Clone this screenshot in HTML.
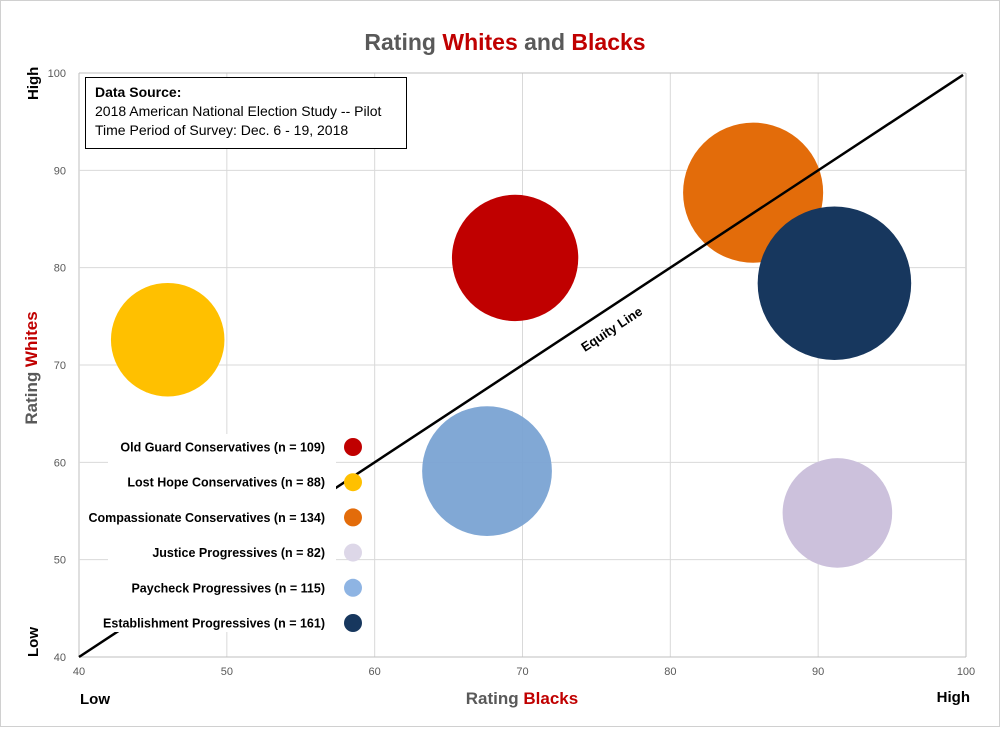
<!DOCTYPE html>
<html><head><meta charset="utf-8"><style>
body{margin:0;background:#fff;font-family:"Liberation Sans",sans-serif}
</style></head><body>
<svg width="1000" height="727" xmlns="http://www.w3.org/2000/svg" font-family="Liberation Sans, sans-serif">
<rect x="0.5" y="0.5" width="999" height="726" fill="#fff" stroke="#d0d0d0"/>
<text x="505" y="50" text-anchor="middle" font-size="23" font-weight="bold" fill="#595959">Rating <tspan fill="#c00000">Whites</tspan> and <tspan fill="#c00000">Blacks</tspan></text>
<g id="grid"></g>
<g id="marks"></g>
<rect x="108" y="434" width="228" height="198" fill="#fff"/>
<g id="legend"></g>
<g>
<rect x="85.5" y="77.5" width="321" height="71" fill="#fff" stroke="#000"/>
<text x="95" y="97" font-size="14" font-weight="bold">Data Source:</text>
<text x="95" y="116" font-size="14">2018 American National Election Study -- Pilot</text>
<text x="95" y="135" font-size="14">Time Period of Survey: Dec. 6 - 19, 2018</text>
</g>
<text x="522" y="704" text-anchor="middle" font-size="17" font-weight="bold" fill="#595959">Rating <tspan fill="#c00000">Blacks</tspan></text>
<text transform="translate(37,368) rotate(-90)" text-anchor="middle" font-size="17" font-weight="bold" fill="#595959">Rating <tspan fill="#c00000">Whites</tspan></text>
<text x="80" y="704" font-size="15" font-weight="bold">Low</text>
<text x="970" y="702" text-anchor="end" font-size="15" font-weight="bold">High</text>
<text transform="translate(38,657) rotate(-90)" font-size="15" font-weight="bold">Low</text>
<text transform="translate(38,100) rotate(-90)" font-size="15" font-weight="bold">High</text>
</svg>
<script>
const xTicks=[40,50,60,70,80,90,100];
const yTicks=[40,50,60,70,80,90,100];
const groups=["Old Guard Conservatives","Lost Hope Conservatives","Compassionate Conservatives","Justice Progressives","Paycheck Progressives","Establishment Progressives"];
const counts=[109,88,134,82,115,161];
const ratingBlacks=[69.5,46.0,85.6,91.3,67.6,91.1];
const ratingWhites=[81.0,72.6,87.7,54.8,59.1,78.4];
const colors=["#c00000","#ffc000","#e36c0a","#ddd7e8","#8eb4e3","#17375e"];
const bubbleColors=["#c00000","#ffc000","#e36c0a","#ccc1dc","#7aa3d3","#17375e"];
const NS="http://www.w3.org/2000/svg";
const X0=79,X1=966,Y0=657,Y1=73;
const sx=v=>X0+(v-40)/60*(X1-X0);
const sy=v=>Y0-(v-40)/60*(Y0-Y1);
function mk(t,a,p){const e=document.createElementNS(NS,t);for(const k in a)e.setAttribute(k,a[k]);p.appendChild(e);return e;}
const grid=document.getElementById('grid');
xTicks.forEach(t=>{
 const l=mk('line',{x1:sx(t),x2:sx(t),y1:Y1,y2:Y0,stroke:t===40||t===100?'#bfbfbf':'#d9d9d9'},grid);
 
 
 const tx=mk('text',{x:sx(t),y:Y0+18,'text-anchor':'middle','font-size':11,fill:'#595959'},grid);tx.textContent=t;
 
 
});
yTicks.forEach(t=>{
 const l=mk('line',{x1:X0,x2:X1,y1:sy(t),y2:sy(t),stroke:t===40||t===100?'#bfbfbf':'#d9d9d9'},grid);
 
 
 const tx=mk('text',{x:X0-13,y:sy(t)+4,'text-anchor':'end','font-size':11,fill:'#595959'},grid);tx.textContent=t;
 
 
});
const marks=document.getElementById('marks');
groups.forEach((g,i)=>{
 const c=mk('circle',{cx:sx(ratingBlacks[i]),cy:sy(ratingWhites[i]),r:6.05*Math.sqrt(counts[i]),fill:bubbleColors[i],'fill-opacity':i===4?0.95:1},marks);
 
 
});
const eq=mk('line',{x1:sx(40),y1:sy(40),x2:sx(99.8),y2:sy(99.8),stroke:'#000','stroke-width':2.5},marks);


const et=mk('text',{x:0,y:0,'font-size':13,'font-weight':'bold',transform:`translate(${sx(76.2)},${sy(73.3)}) rotate(-33.4)`,'text-anchor':'middle'},marks);
et.textContent='Equity Line';


const leg=document.getElementById('legend');
groups.forEach((g,i)=>{
 const y=447+i*35.2;
 const t=mk('text',{x:325,y:y+4.5,'text-anchor':'end','font-size':12.5,'font-weight':'bold'},leg);
 t.textContent=g+' (n = '+counts[i]+')';
 
 
 const c=mk('circle',{cx:353,cy:y,r:9,fill:colors[i]},leg);
 
 
});
</script>
</body></html>
